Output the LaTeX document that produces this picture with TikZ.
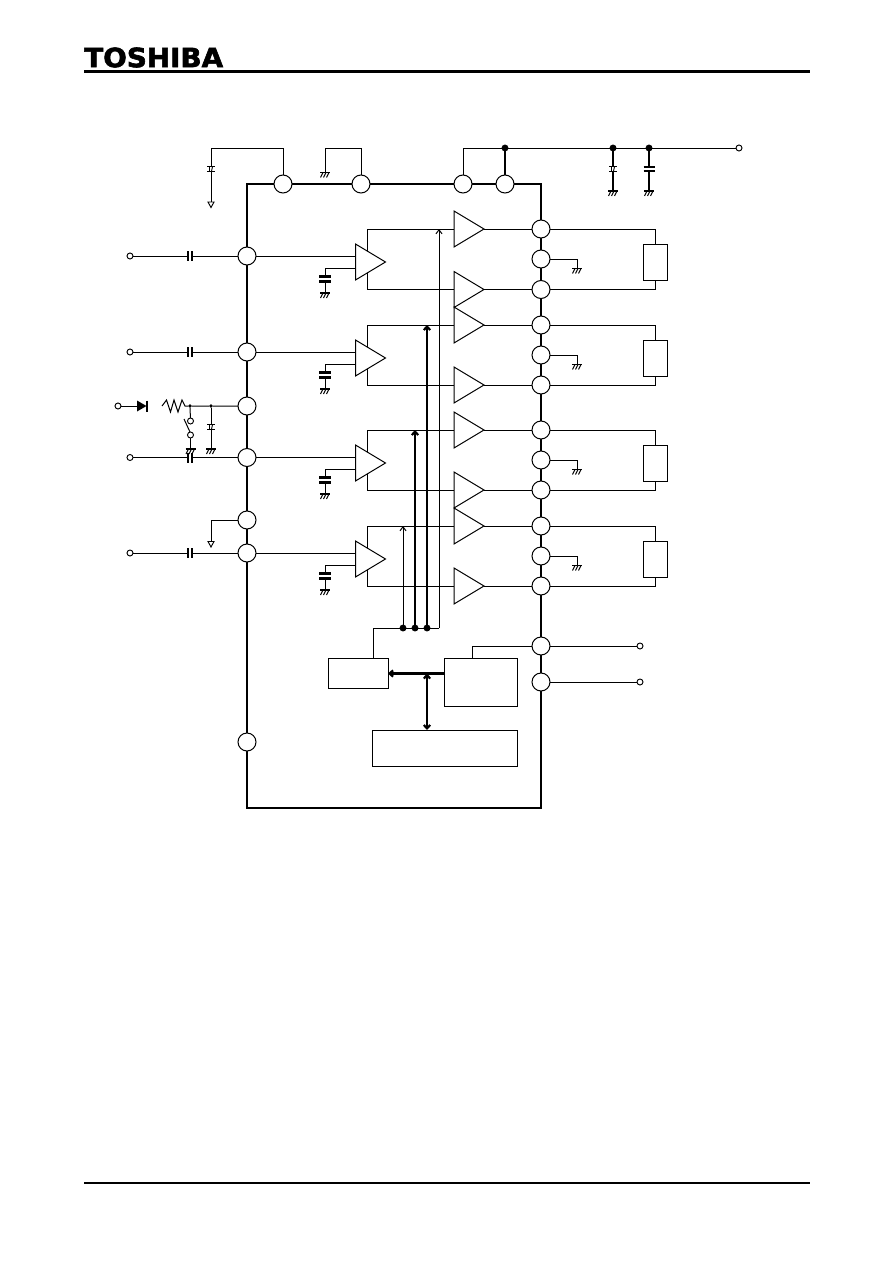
\documentclass[tikz,border=0pt]{standalone}
\usepackage{fontspec}
\newfontfamily\logofont[BoldFeatures={FakeBold=2.2}]{DejaVu Sans}
\usetikzlibrary{shapes.geometric,arrows.meta,calc}
\tikzset{
  thin wire/.style={line width=0.75pt},
  thick wire/.style={line width=1.6pt},
  pin/.style={circle,draw,fill=white,line width=0.75pt,minimum size=13.5pt,inner sep=0pt,outer sep=0pt},
  term/.style={circle,draw,fill=white,line width=0.7pt,minimum size=4.5pt,inner sep=0pt,outer sep=0pt},
  dot/.style={circle,fill=black,minimum size=5.2pt,inner sep=0pt,outer sep=0pt},
  smalldot/.style={circle,fill=black,minimum size=2.8pt,inner sep=0pt,outer sep=0pt},
  amp/.style={isosceles triangle,isosceles triangle stretches,draw,line width=0.75pt,minimum width=27pt,minimum height=22.5pt,inner sep=0pt,outer sep=0pt,anchor=lower side},
  block/.style={draw,line width=0.75pt,inner sep=0pt,outer sep=0pt},
  thinarrow/.style={thin wire,-{Straight Barb[length=3pt,width=4.6pt]}},
  thickarrow/.style={thick wire,-{Straight Barb[length=2.6pt,width=4.8pt]}},
  gnd/.pic={
    \draw[line width=1.4pt] (-5,0) -- (5,0);
    \draw[line width=0.7pt] (-2,0) -- (-4.5,5) (1,0) -- (-1.5,5) (4,0) -- (1.5,5);
  },
  vcap/.pic={
    \fill[white] (-5,-2) rectangle (5,2);
    \draw[line width=1.5pt] (-5.5,-2.2) -- (5.5,-2.2) (-5.5,2.2) -- (5.5,2.2);
  },
  bigcap/.pic={
    \fill[white] (-6,-2) rectangle (6,2);
    \draw[line width=1.8pt] (-6,-2.4) -- (6,-2.4) (-6,2.4) -- (6,2.4);
  },
  hcap/.pic={
    \fill[white] (-2,-5) rectangle (2,5);
    \draw[line width=1.5pt] (-2.2,-5) -- (-2.2,5) (2.2,-5) -- (2.2,5);
  },
  ecap/.pic={
    \fill[white] (-4,-3) rectangle (4,3);
    \draw[line width=1.2pt] (-4,-2.6) -- (4,-2.6) (-4,2.6) -- (4,2.6);
    \draw[line width=0.7pt] (-1.5,-2.6) -- (-1.5,2.6) (1.5,-2.6) -- (0.5,2.6);
  },
  opentri/.pic={
    \draw[line width=0.7pt,fill=white] (-3,0) -- (3,0) -- (0,5.5) -- cycle;
  },
}
\begin{document}
\begin{tikzpicture}[x=0.75pt,y=-0.75pt]
\useasboundingbox (0,0) rectangle (892,1263);

% header and footer
\node[anchor=west,inner sep=0pt,xscale=0.965,yscale=0.92] (logo) at (84,57.5) {\fontsize{21.6pt}{22pt}\logofont\bfseries TOSHIBA};
\coordinate (hl) at (84,71.5); \coordinate (hr) at (810,71.5);
\coordinate (fl) at (84,1183); \coordinate (fr) at (810,1183);
\draw[thick wire] (hl) -- (hr);
\draw[thick wire] (fl) -- (fr);

% chip outline
\coordinate (c1) at (247,184); \coordinate (c3) at (541,808);
\draw[thick wire] (c1) rectangle (c3);

% pins
\foreach \n/\x/\y in {T1/283/184,T2/361/184,T3/463/184,T4/505/184,
  L1/247/256,L2/247/352,L3/247/406,L4/247/457.5,L5/247/520,L6/247/553,L7/247/742,
  R1/541/229,R2/541/259,R3/541/289.5,R4/541/325,R5/541/355,R6/541/385,
  R7/541/430,R8/541/460,R9/541/490,R10/541/526,R11/541/556,R12/541/586,R13/541/646,R14/541/682}
  \node[pin] (\n) at (\x,\y) {};

% input amplifiers
\foreach \i/\y in {1/262,2/358,3/463,4/559}
  \node[amp] (IA\i) at (355.5,\y) {};
% output amplifiers
\foreach \i/\y in {1/229,2/289.5,3/325,4/385,5/430,6/490,7/526,8/586}
  \node[amp] (OA\i) at (454,\y) {};

% input terminals, wires and coupling capacitors
\foreach \i/\p/\y/\a in {1/L1/256/1,2/L2/352/2,3/L4/457.5/3,4/L6/553/4}{
  \node[term] (IN\i) at (130,\y) {};
  \draw[thin wire] (IN\i) -- (\p.west);
  \coordinate (CC\i) at (190,\y);
  \path (CC\i) pic {hcap};
  \draw[thin wire] (\p.east) -- (\p.east -| IA\a.lower side);
}

% input amp bias capacitor to ground, and feedback rails to the output amps
\foreach \a/\t/\b in {1/1/2,2/3/4,3/5/6,4/7/8}{
  \coordinate (IAin\a) at ($(IA\a.lower side)+(0,6)$);
  \coordinate (G\a) at ($(IA\a.lower side)+(-30.5,31)$);
  \coordinate (Cb\a) at ($(IA\a.lower side)+(-30.5,17)$);
  \draw[thin wire] (IAin\a) -| (G\a);
  \path (Cb\a) pic {bigcap};
  \path (G\a) pic {gnd};
  \coordinate (IAup\a) at ($(IA\a.left corner)!0.4!(IA\a.apex)$);
  \coordinate (IAdn\a) at ($(IA\a.right corner)!0.4!(IA\a.apex)$);
  \draw[thin wire] (IAup\a) |- (OA\t.lower side);
  \draw[thin wire] (IAdn\a) |- (OA\b.lower side);
}

% output amp to pin
\foreach \i/\p in {1/R1,2/R3,3/R4,4/R6,5/R7,6/R9,7/R10,8/R12}
  \draw[thin wire] (OA\i.apex) -- (\p.west);

% speaker loads
\foreach \i/\a/\b/\y in {1/R1/R3/262,2/R4/R6/358,3/R7/R9/463,4/R10/R12/559}{
  \node[block,minimum width=18pt,minimum height=27pt] (LD\i) at (655,\y) {};
  \draw[thin wire] (\a.east) -| (LD\i.north);
  \draw[thin wire] (\b.east) -| (LD\i.south);
}

% output ground pins
\foreach \i/\p/\y in {1/R2/259,2/R5/355,3/R8/460,4/R11/556}{
  \coordinate (OG\i) at (577,\y+9.5);
  \draw[thin wire] (\p.east) -| (OG\i);
  \path (OG\i) pic {gnd};
}

% control bus
\node[dot] (J1) at (403,628) {};
\node[dot] (J2) at (415,628) {};
\node[dot] (J3) at (427,628) {};
\coordinate (J4) at (439,628);
\draw[thinarrow] (J4) -- (J4 |- OA1.lower side);
\draw[thickarrow] (J3) -- (J3 |- OA3.lower side);
\draw[thickarrow] (J2) -- (J2 |- OA5.lower side);
\draw[thinarrow] (J1) -- (J1 |- OA7.lower side);

% blocks
\node[block,minimum width=45pt,minimum height=22.5pt] (B1) at (358,673.5) {};
\node[block,minimum width=54.5pt,minimum height=36pt] (B2) at (481.3,682) {};
\node[block,minimum width=108.5pt,minimum height=27pt] (B3) at (445.3,748) {};
\coordinate (B1up) at (373,658.5);
\coordinate (B2up) at (472,658);
\draw[thin wire] (B1up) |- (J4);
\draw[thin wire] (R13.west) -| (B2up);
\coordinate (B2out) at (445,673.5);
\coordinate (B1in) at (388,673.5);
\coordinate (Bj) at (427,673.5);
\coordinate (B3in) at (427,730);
\draw[thickarrow] (B2out) -- (B1in);
\draw[thick wire,{Straight Barb[length=2.6pt,width=4.8pt]}-{Straight Barb[length=2.6pt,width=4.8pt]}] (Bj) -- (B3in);

% right side terminals
\node[term] (OUT1) at (640,646) {};
\node[term] (OUT2) at (640,682) {};
\draw[thin wire] (R13.east) -- (OUT1);
\draw[thin wire] (R14.east) -- (OUT2);

% top left: T1 decoupling, T2 ground
\coordinate (TA) at (211,148);
\coordinate (TAe) at (211,202);
\coordinate (TAc) at (211,169);
\draw[thin wire] (T1.north) |- (TA) -- (TAe);
\path (TAc) pic {ecap};
\path (TAe) pic {opentri};
\coordinate (TB) at (325,148);
\coordinate (TBg) at (325,172.5);
\draw[thin wire] (T2.north) |- (TB) -- (TBg);
\path (TBg) pic {gnd};

% top right supply
\node[term] (VCC) at (739,148) {};
\node[dot] (D1) at (505,148) {};
\node[dot] (D2) at (613,148) {};
\node[dot] (D3) at (649,148) {};
\draw[thin wire] (T3.north) |- (D1) -- (VCC);
\draw[thick wire] (D1) -- (T4.north);
\coordinate (S1) at (613,191); \coordinate (S2) at (649,191);
\coordinate (S1c) at (613,169); \coordinate (S2c) at (649,169);
\draw[thick wire] (D2) -- (S1);
\draw[thick wire] (D3) -- (S2);
\path (S1c) pic {ecap};
\path (S2c) pic {vcap};
\path (S1) pic {gnd};
\path (S2) pic {gnd};

% L3 network
\node[term] (INR) at (118,406) {};
\coordinate (Da) at (137,406);
\coordinate (Ra) at (162,406);
\coordinate (Rb) at (185,406);
\node[smalldot] (N1) at (190,406) {};
\node[smalldot] (N2) at (211,406) {};
\draw[thin wire] (INR) -- (Da);
\fill (Da) ++(0,-5.5) -- ++(9.5,5.5) -- ++(-9.5,5.5) -- cycle;
\draw[line width=0.9pt] (147,400.5) -- (147,411.5);
\draw[thin wire] (Ra) -- ++(4.5,-6) -- ++(4,12) -- ++(3.5,-12) -- ++(4,12) -- ++(4,-12) -- (Rb) -- (N1) -- (N2) -- (L3.west);
\node[term] (SW1) at (190.5,421) {};
\node[term] (SW2) at (190.5,435) {};
\draw[thin wire] (N1) -- (SW1);
\draw[thin wire] (184,419) -- (190,432);
\coordinate (GS) at (190.5,449);
\draw[thin wire] (SW2) -- (GS);
\path (GS) pic {gnd};
\coordinate (GC) at (211,449);
\coordinate (GCc) at (211,427);
\draw[thin wire] (N2) -- (GC);
\path (GCc) pic {ecap};
\path (GC) pic {gnd};

% L5 to reference
\coordinate (Lv) at (211,520);
\coordinate (Lve) at (211,541.5);
\draw[thin wire] (L5.west) -- (Lv) -- (Lve);
\path (Lve) pic {opentri};
\end{tikzpicture}
\end{document}
